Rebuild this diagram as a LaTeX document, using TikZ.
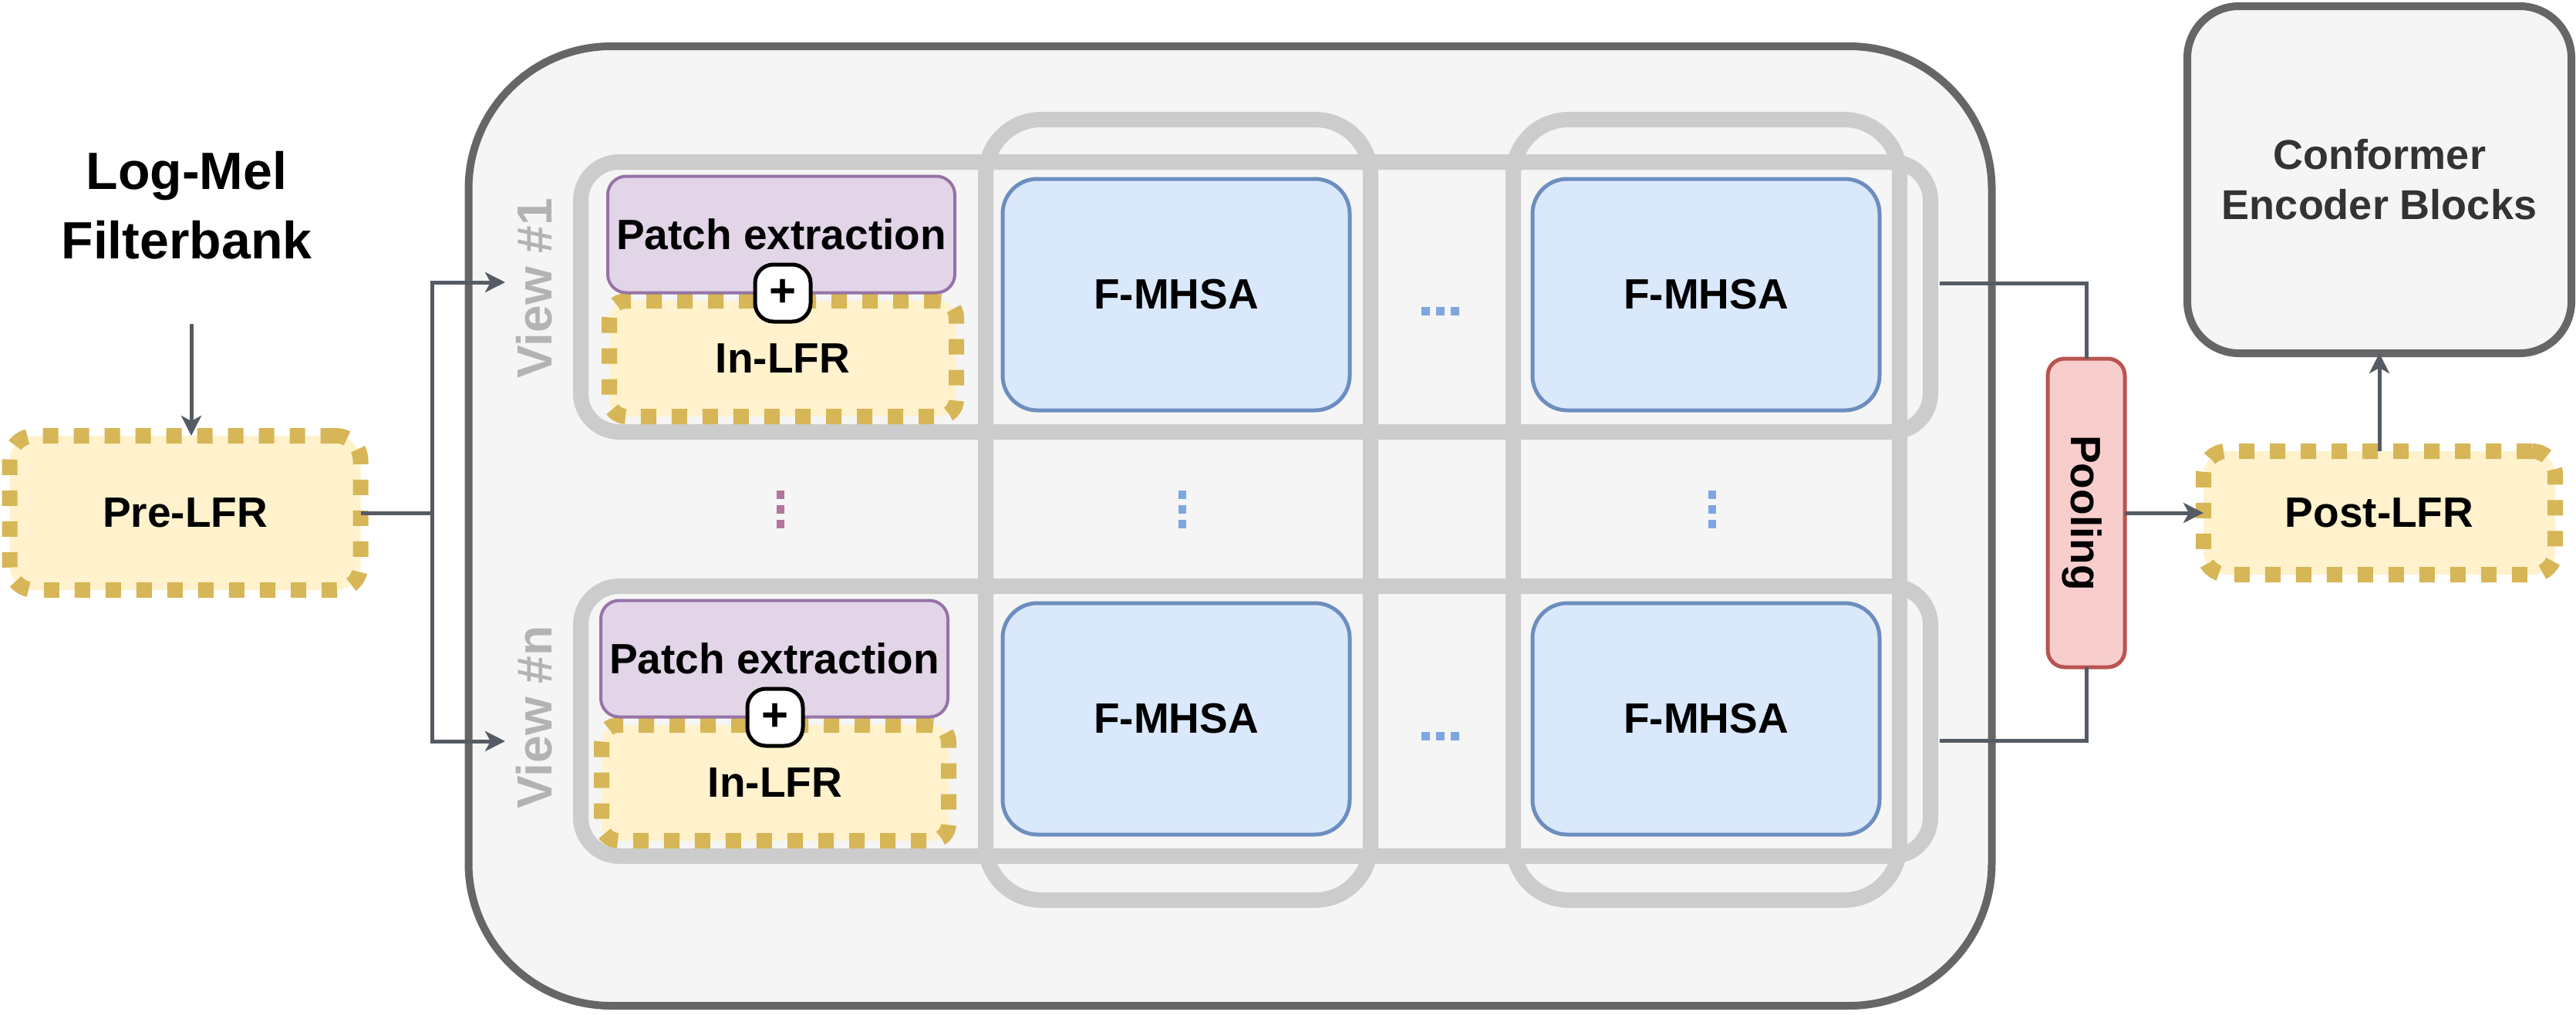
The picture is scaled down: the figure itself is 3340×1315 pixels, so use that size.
\documentclass[tikz,border=0pt]{standalone}
\usepackage{fontspec}
\setmainfont{Liberation Sans}
\usetikzlibrary{arrows.meta}
\definecolor{outerfill}{HTML}{F5F5F5}
\definecolor{outerline}{HTML}{666666}
\definecolor{gridline}{HTML}{CCCCCC}
\definecolor{yfill}{HTML}{FFF2CC}
\definecolor{yline}{HTML}{D6B656}
\definecolor{pfill}{HTML}{E1D5E7}
\definecolor{pline}{HTML}{9673A6}
\definecolor{bfill}{HTML}{DAE8FC}
\definecolor{bline}{HTML}{6C8EBF}
\definecolor{rfill}{HTML}{F8CECC}
\definecolor{rline}{HTML}{B85450}
\definecolor{conn}{HTML}{545B64}
\definecolor{viewtxt}{HTML}{B3B3B3}
\definecolor{conftxt}{HTML}{333333}
\definecolor{dotblue}{HTML}{7EA6E0}
\definecolor{dotpurple}{HTML}{B5739D}
\begin{document}
\begin{tikzpicture}[x=1pt,y=-1pt,
  every node/.style={inner sep=0pt, outer sep=0pt},
  lbl/.style={font=\fontsize{55}{66}\selectfont\bfseries},
  ybox/.style={draw=yline, fill=yfill, line width=20pt, dash pattern=on 20pt off 20pt, lbl},
  gridbox/.style={draw=gridline, line width=20pt},
  patchbox/.style={draw=pline, fill=pfill, line width=4pt, rounded corners=24pt, minimum width=450pt, minimum height=151pt, lbl},
  inbox/.style={ybox, rounded corners=22pt, minimum width=450pt, minimum height=150pt},
  fmbox/.style={draw=bline, fill=bfill, line width=5pt, rounded corners=45pt, minimum width=450pt, minimum height=300pt, lbl},
  plusbox/.style={draw=black, fill=white, line width=5pt, rounded corners=24pt, minimum width=72pt, minimum height=74pt, font=\fontsize{60}{60}\selectfont\bfseries},
  viewlbl/.style={text=viewtxt, rotate=90, font=\fontsize{64}{70}\selectfont\bfseries},
  connline/.style={draw=conn, line width=5pt},
  arr/.style={connline, -{Stealth[length=26pt, width=26pt, inset=7pt]}}
]
\useasboundingbox (0,0) rectangle (3340,1315);

% outer container
\node[draw=outerline, fill=outerfill, line width=10pt, rounded corners=185pt,
      minimum width=1975pt, minimum height=1244pt] (outer) at (1595,682) {};

% columns (F-MHSA layers)
\node[gridbox, rounded corners=72pt, minimum width=499pt, minimum height=1012pt] (col1) at (1527.5,661) {};
\node[gridbox, rounded corners=72pt, minimum width=501pt, minimum height=1012pt] (col2) at (2212.5,661) {};
% rows (views)
\node[gridbox, rounded corners=50pt, minimum width=1750pt, minimum height=350pt] (row1) at (1628,385) {};
\node[gridbox, rounded corners=50pt, minimum width=1750pt, minimum height=350pt] (rown) at (1628,935) {};

% view labels
\node[viewlbl] (v1) at (693,374) {View \#1};
\node[viewlbl] (vn) at (693,930) {View \#n};

% row 1 contents
\node[inbox] (in1) at (1015,465) {In-LFR};
\node[patchbox] (pe1) at (1013,304) {Patch extraction};
\node[plusbox] (plus1) at (1015,380) {+};
\node[fmbox] (fm11) at (1525,382) {F-MHSA};
\node[fmbox] (fm12) at (2212,382) {F-MHSA};

% row n contents
\node[inbox] (inn) at (1005,1015) {In-LFR};
\node[patchbox] (pen) at (1004,854) {Patch extraction};
\node[plusbox] (plusn) at (1005,930) {+};
\node[fmbox] (fmn1) at (1525,932) {F-MHSA};
\node[fmbox] (fmn2) at (2212,932) {F-MHSA};

% horizontal ellipses
\foreach \x in {1848,1867,1886}{
  \fill[dotblue] (\x-5.5,398) rectangle (\x+5.5,409);
  \fill[dotblue] (\x-5.5,949) rectangle (\x+5.5,960);
}
% vertical ellipses
\foreach \y in {641,660,679}{
  \fill[dotpurple] (1007,\y-5.5) rectangle (1017,\y+5.5);
  \fill[dotblue] (1528,\y-5.5) rectangle (1538,\y+5.5);
  \fill[dotblue] (2215,\y-5.5) rectangle (2225,\y+5.5);
}

% left side
\node[font=\fontsize{68}{90}\selectfont\bfseries, align=center] (logmel) at (242,266) {Log-Mel\\Filterbank};
\node[ybox, rounded corners=32pt, minimum width=455pt, minimum height=200pt] (pre) at (240,665) {Pre-LFR};

% right side
\node[draw=rline, fill=rfill, line width=5pt, rounded corners=22pt, minimum width=100pt, minimum height=400pt] (pool) at (2705,665) {};
\node[rotate=-90, lbl, text depth=0pt] (poollbl) at (2705,665) {Pooling};
\node[ybox, rounded corners=30pt, minimum width=456pt, minimum height=160pt] (post) at (3085,665) {Post-LFR};
\node[draw=outerline, fill=outerfill, line width=10pt, rounded corners=67pt,
      minimum width=498pt, minimum height=450pt, align=center, text=conftxt,
      font=\fontsize{54}{65}\selectfont\bfseries] (conf) at (3085,233) {Conformer\\Encoder Blocks};

% connectors
\coordinate (lmout) at (248,420);
\coordinate (br) at (560,665);
\coordinate (in1tip) at (655,366);
\coordinate (inntip) at (655,961);
\coordinate (r1out) at (2515,367);
\coordinate (rnout) at (2515,960);

\draw[arr] (lmout) -- (lmout |- pre.north);
\draw[connline] (pre.east) -- (br);
\draw[arr] (br) |- (in1tip);
\draw[arr] (br) |- (inntip);
\draw[connline] (r1out) -| (pool.north);
\draw[connline] (rnout) -| (pool.south);
\draw[arr] (pool.east) -- (post.west);
\draw[arr] (post.north) -- (conf.south);
\end{tikzpicture}
\end{document}
